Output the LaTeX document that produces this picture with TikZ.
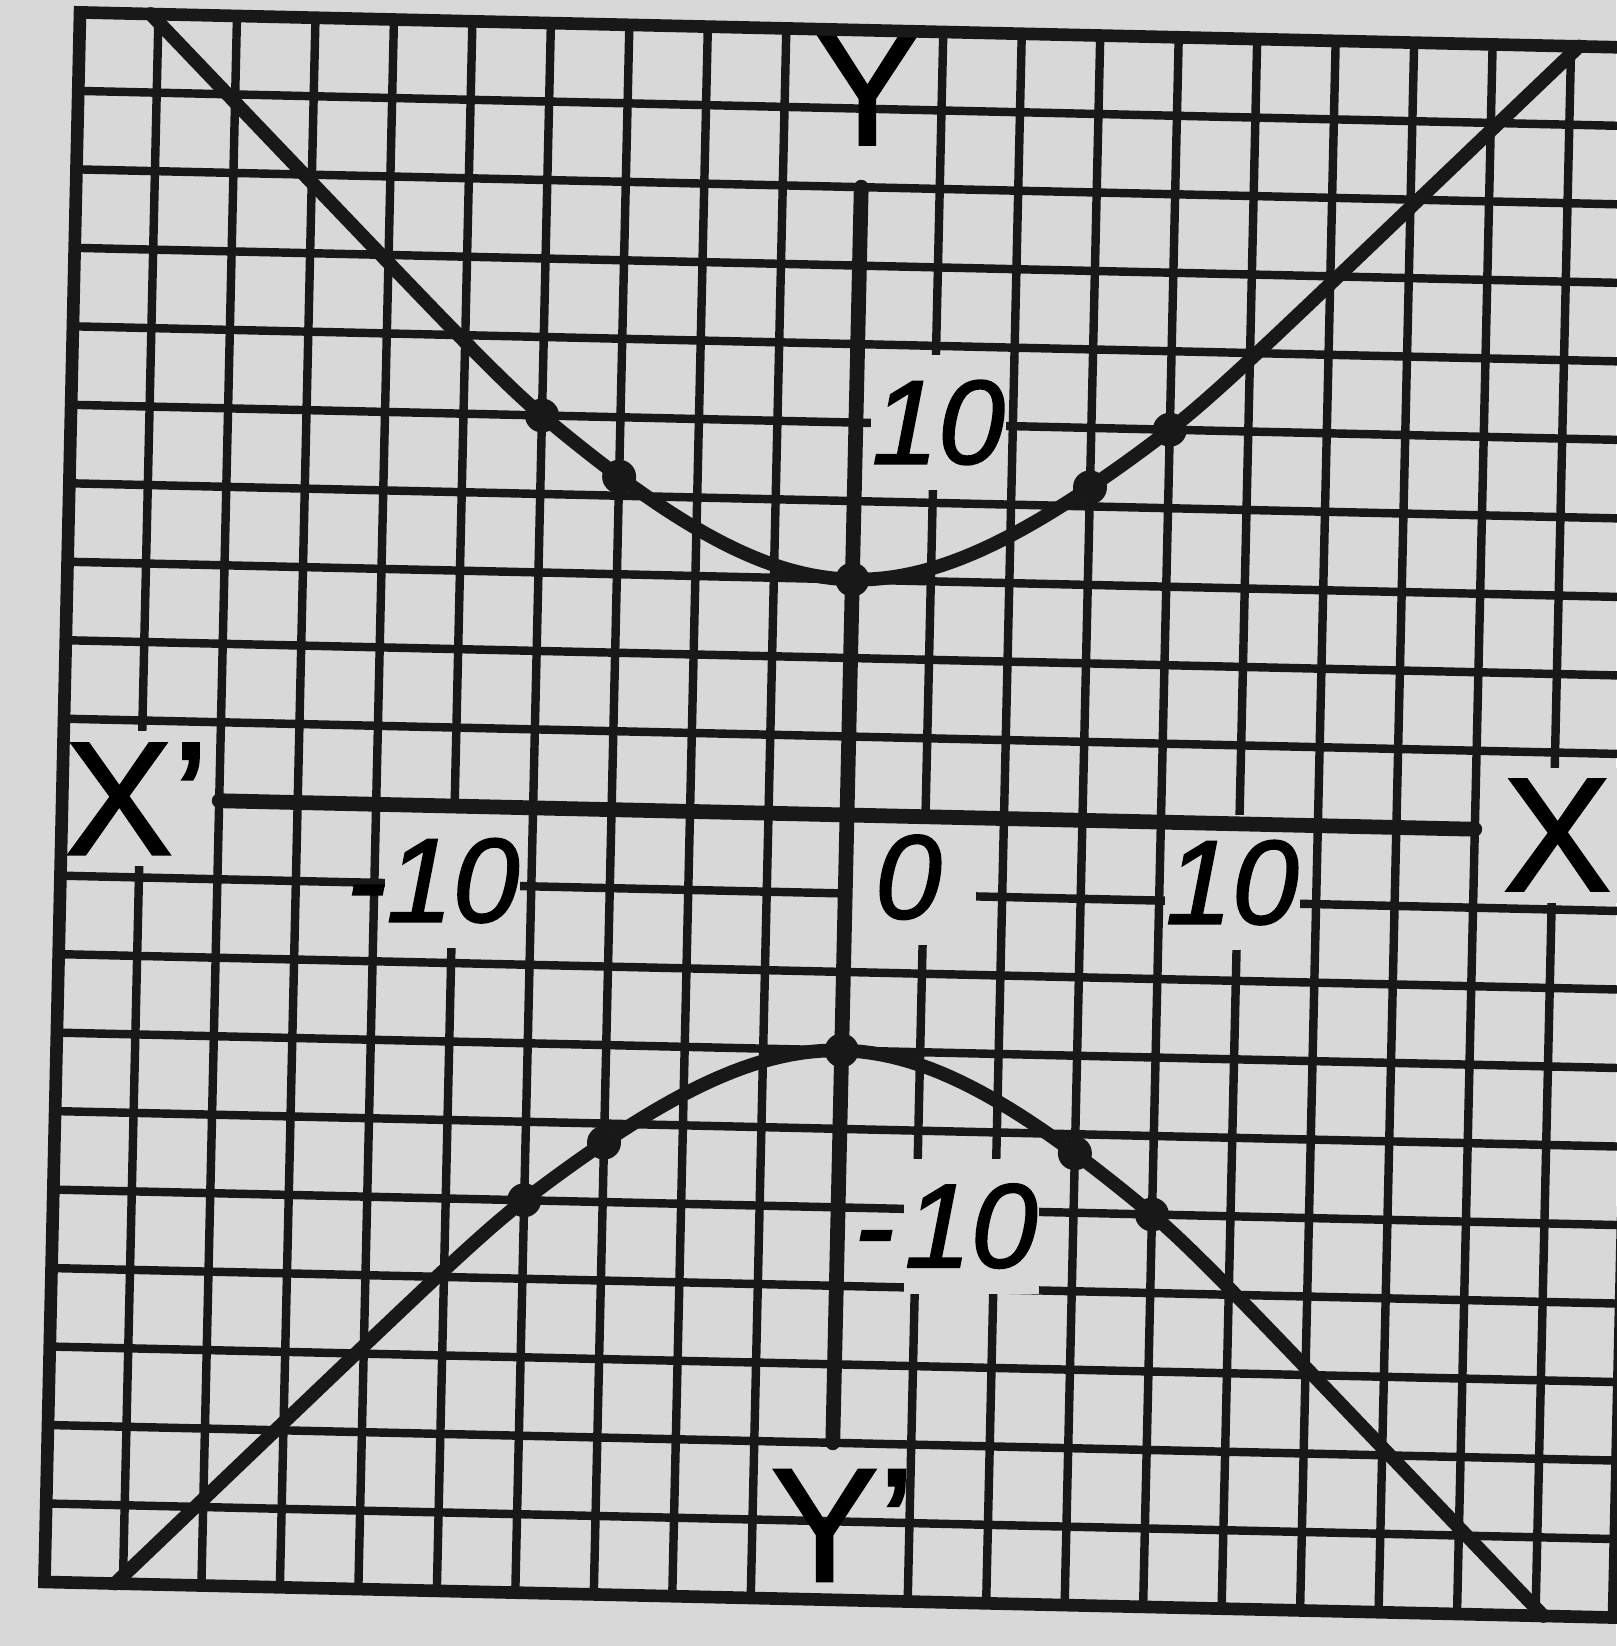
\documentclass[tikz,border=0pt]{standalone}
\usepackage{fontspec}
\setmainfont{Liberation Sans}
\newfontfamily\handfont[Ligatures=TeX, FakeBold=1.5]{Liberation Sans}
\definecolor{paper}{RGB}{216,216,216}
\definecolor{ink}{RGB}{24,24,24}

\begin{document}
\begin{tikzpicture}[
    gridline/.style={ink, line width=2.4pt},
    frameline/.style={ink, line width=3.6pt},
    axisline/.style={ink, line width=4.2pt, line cap=round},
    curveline/.style={ink, line width=3.9pt, line cap=round, line join=round},
    numlbl/.style={fill=paper, inner sep=0pt, minimum width=1.35cm, minimum height=1.35cm,
        font=\handfont\fontsize{34}{34}\selectfont\itshape},
    axlbl/.style={inner sep=0pt, font=\handfont\fontsize{46}{46}\selectfont},
    declare function={hy(\t)=sqrt(36+min(abs(\t),8)^2)+max(abs(\t)-8,0)-0.2*(1-exp(-max(abs(\t)-8,0)));}
]
    % Лист
    \fill[paper] (0,0) rectangle (16.16,16.46);
    \useasboundingbox (0,0) rectangle (16.16,16.46);

    \begin{scope}[shift={(8.47,8.31)}, rotate=-1.3, x=0.3925cm, y=0.3925cm]
    % Сетка (клетка = 2 единицы)
    \foreach \k in {-18,-16,...,18} {
        \ifnum\k=0 \else
        \draw[gridline] (\k,-20) -- (\k,20);
        \draw[gridline] (-20,\k) -- (20,\k);
        \fi
    }

    % Подписи делений
    \node[numlbl] (ytop) at (2.1,10.05) {10};
    \node[numlbl] (ybot) at (3.4,-10.4) {\llap{-\hspace{3pt}}10};
    \node[numlbl] (xleft) at (-10,-1.9) {\llap{-}10};
    \node[numlbl] (orig) at (1.6,-1.55) {0};
    \node[numlbl] (xright) at (9.85,-1.5) {10};

    % Подписи осей
    \node[axlbl, fill=paper, minimum width=1.35cm, minimum height=1.35cm] (Xp) at (-18.1,0) {X'};
    \node[axlbl, fill=paper, minimum width=1.35cm, minimum height=1.35cm] (X) at (18.1,-0.1) {X};
    \node[axlbl] (Y) at (0.1,18.5) {Y};
    \node[axlbl] (Yp) at (0.3,-18.1) {Y'};

    % Рамка
    \draw[frameline] (-20,-20) rectangle (20,20);

    % Оси
    \draw[axisline] (-16,0) -- (16,0);
    \draw[axisline] (0,-16) -- (0,16);

    % Гипербола y^2 - x^2 = 36
    \draw[curveline] plot[domain=-18.2:18.2, samples=145] (\x, {hy(\x)});
    \draw[curveline] plot[domain=-18.2:18.2, samples=145] (\x, {-hy(\x)});

    % Точки
    \foreach \a in {-8,-6,0,6,8} {
        \fill[ink] (\a, {hy(\a)}) circle[radius=0.17cm];
        \fill[ink] (\a, {-hy(\a)}) circle[radius=0.17cm];
    }
    \end{scope}
\end{tikzpicture}
\end{document}
